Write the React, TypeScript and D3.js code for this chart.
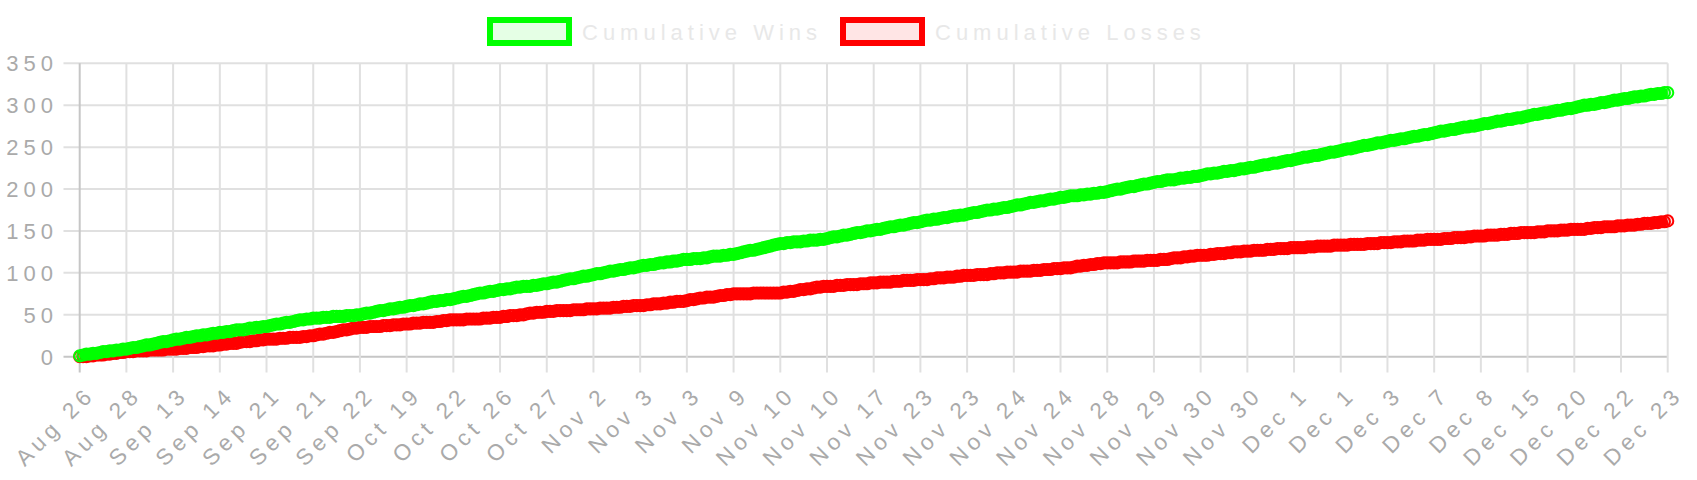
import React from 'react';
import * as d3 from 'd3';

// x tick labels (one every 14 games)
const tickLabels = [
  'Aug 26', 'Aug 28', 'Sep 13', 'Sep 14', 'Sep 21', 'Sep 21', 'Sep 22', 'Oct 19', 'Oct 22',
  'Oct 26', 'Oct 27', 'Nov 2', 'Nov 3', 'Nov 3', 'Nov 9', 'Nov 10', 'Nov 10', 'Nov 17',
  'Nov 23', 'Nov 23', 'Nov 24', 'Nov 24', 'Nov 28', 'Nov 29', 'Nov 30', 'Nov 30', 'Dec 1',
  'Dec 1', 'Dec 3', 'Dec 7', 'Dec 8', 'Dec 15', 'Dec 20', 'Dec 22', 'Dec 23',
];

const yTicks = [0, 50, 100, 150, 200, 250, 300, 350];

// game-by-game results (W = win, L = loss), grouped 14 games per labelled tick
const results = [
  'W',
  'WWLWLWWLWLWLWL',
  'WWLWWWLWWWWLWW',
  'WLWWLWWLWLWWLW',
  'LWLWWLLWWLWLWL',
  'WWWLWWLWWWLWLW',
  'LLWLLWLLLWLLWL',
  'WWLWWWLWWLWWLW',
  'WLWWLWWWLWLWLW',
  'WWWLWWWWLWWLWW',
  'LWLWWLWLLWLWWL',
  'WWLWWWWLWWWLWW',
  'WLWWWLWWLWWLWW',
  'WLWLWWLWLWLWWL',
  'LWLLWLWWLLWLWL',
  'WWWWWLWWWWWWWW',
  'LWLWLLWLWLLWLW',
  'WWLWWLWWWLWWLW',
  'WLWWWLWWLWWWLW',
  'WWLWLWWLWWLWLW',
  'WWLWWWLWLWWLWW',
  'WLWWWLWWLWWLWW',
  'LWWLLWLWLWLWLW',
  'WWWLWWWLWWWLWW',
  'WLWWLLWWLWLWLW',
  'WWLWLWWLWLWWLW',
  'WLWWWLWWLWWWLW',
  'WWWLWWLWWWWLWW',
  'WWLWWWWLWWWLWW',
  'WLWWLWWWLWWLWW',
  'WWLWWLWWWLWLWW',
  'WLWWWLWWLWWLWW',
  'WWLWWLWWWLWWLW',
  'WWWLWLWWLWWWLW',
  'WLWWLWLWWLWLWL',
];

const seriesNames = ['Cumulative Wins', 'Cumulative Losses'];
const seriesColors = ['#00ff00', '#ff0000'];
const seriesFills = ['rgba(0,255,0,0.1)', 'rgba(255,0,0,0.1)'];

const W = 1697;
const H = 480;
const FONT = '"Liberation Sans", Arial, Helvetica, sans-serif';

export default function App() {
  const games = results.join('').split('');
  const wins = Array.from(d3.cumsum(games, (g) => (g === 'W' ? 1 : 0)));
  const losses = Array.from(d3.cumsum(games, (g) => (g === 'L' ? 1 : 0)));
  const n = games.length;
  const every = (n - 1) / (tickLabels.length - 1);

  const x = d3.scaleLinear().domain([0, n - 1]).range([79.7, 1667.7]);
  const y = d3.scaleLinear().domain([0, 350]).range([356.7, 63.3]);

  const line = d3
    .line<number>()
    .x((_, i) => x(i))
    .y((d) => y(d))
    .curve(d3.curveMonotoneX);

  const series = [wins, losses];
  const drawOrder = [1, 0];

  const legend = [
    { box: 490, text: 582 },
    { box: 843, text: 935 },
  ];

  return (
    <div style={{ position: 'absolute', left: 0, top: 0 }}>
      <svg width={W} height={H} style={{ display: 'block' }}>
        <rect x={0} y={0} width={W} height={H} fill="#ffffff" />
        {/* horizontal grid */}
        {yTicks.map((t) => (
          <line
            key={'h' + t}
            x1={63.5}
            x2={1667.7}
            y1={y(t)}
            y2={y(t)}
            stroke={t === 0 ? '#c6c6c6' : '#e0e0e0'}
            strokeWidth={2}
          />
        ))}
        {/* vertical grid */}
        {tickLabels.map((lab, j) => (
          <line
            key={'v' + j}
            x1={x(j * every)}
            x2={x(j * every)}
            y1={63.3}
            y2={372.5}
            stroke={j === 0 ? '#c6c6c6' : '#e0e0e0'}
            strokeWidth={2}
          />
        ))}
        {/* y labels */}
        {yTicks.map((t) => (
          <text
            key={'yl' + t}
            x={58}
            y={y(t) + 8}
            textAnchor="end"
            fontFamily={FONT}
            fontSize={22}
            letterSpacing={5}
            fill="#aaaaaa"
          >
            {t}
          </text>
        ))}
        {/* x labels */}
        {tickLabels.map((lab, j) => (
          <text
            key={'xl' + j}
            transform={`translate(${x(j * every) + 11},${390}) rotate(-45)`}
            textAnchor="end"
            dy="0.35em"
            fontFamily={FONT}
            fontSize={22.5}
            letterSpacing={5}
            fill="#aaaaaa"
          >
            {lab}
          </text>
        ))}
        {/* series */}
        {drawOrder.map((s) => (
          <g key={'s' + s}>
            <path d={line(series[s]) || ''} fill="none" stroke={seriesColors[s]} strokeWidth={8} />
            {series[s].map((v, i) => (
              <circle
                key={i}
                cx={x(i)}
                cy={y(v)}
                r={5.6}
                fill={seriesFills[s]}
                stroke={seriesColors[s]}
                strokeWidth={2}
              />
            ))}
          </g>
        ))}
        {/* legend */}
        {seriesNames.map((name, s) => (
          <g key={'lg' + s}>
            <rect
              x={legend[s].box}
              y={20}
              width={79}
              height={23}
              fill={seriesFills[s]}
              stroke={seriesColors[s]}
              strokeWidth={6}
            />
            <text
              x={legend[s].text}
              y={39.5}
              fontFamily={FONT}
              fontSize={22}
              letterSpacing={5}
              fill="#e8e8e8"
            >
              {name}
            </text>
          </g>
        ))}
      </svg>
    </div>
  );
}
